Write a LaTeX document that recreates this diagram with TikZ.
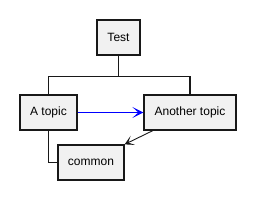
\documentclass[tikz,border=0pt]{standalone}
\usepackage{fontspec}
\setmainfont{Liberation Sans}
\usetikzlibrary{arrows.meta, calc}

\definecolor{boxfill}{HTML}{F1F1F1}
\definecolor{boxline}{HTML}{181818}

\begin{document}
\begin{tikzpicture}[
    x=1pt, y=-1pt,
    topic/.style={draw=boxline, fill=boxfill, line width=1.3pt, minimum height=35pt, inner sep=0pt, font=\fontsize{12}{14}\selectfont},
    link/.style={draw=boxline, line width=1.1pt},
    arrowlink/.style={draw=boxline, line width=0.9pt, -{Stealth[length=9pt, width=10pt, inset=5pt]}},
    bluelink/.style={draw=blue, line width=1pt, -{Stealth[length=11pt, width=11pt, inset=6pt]}}
]
\useasboundingbox (0,0) rectangle (255,200);

% Topics
\node[topic, minimum width=43pt] (test) at (118.5,37.5) {Test};
\node[topic, minimum width=57pt] (atopic) at (48.5,112.5) {A topic};
\node[topic, minimum width=92pt] (another) at (190,112.5) {Another topic};
\node[topic, minimum width=66pt] (common) at (91,162.5) {common};

% Tree lines
\coordinate (split) at ($(test.south)+(0,21)$);
\draw[link] (test.south) -- (split) -| (atopic.north);
\draw[link] (split) -| (another.north);
\draw[link] (atopic.south) |- (common.west);

% Arrows
\draw[bluelink] (atopic.east) -- (another.west);
\draw[arrowlink] (another.206) -- (common.north east);

\end{tikzpicture}
\end{document}
